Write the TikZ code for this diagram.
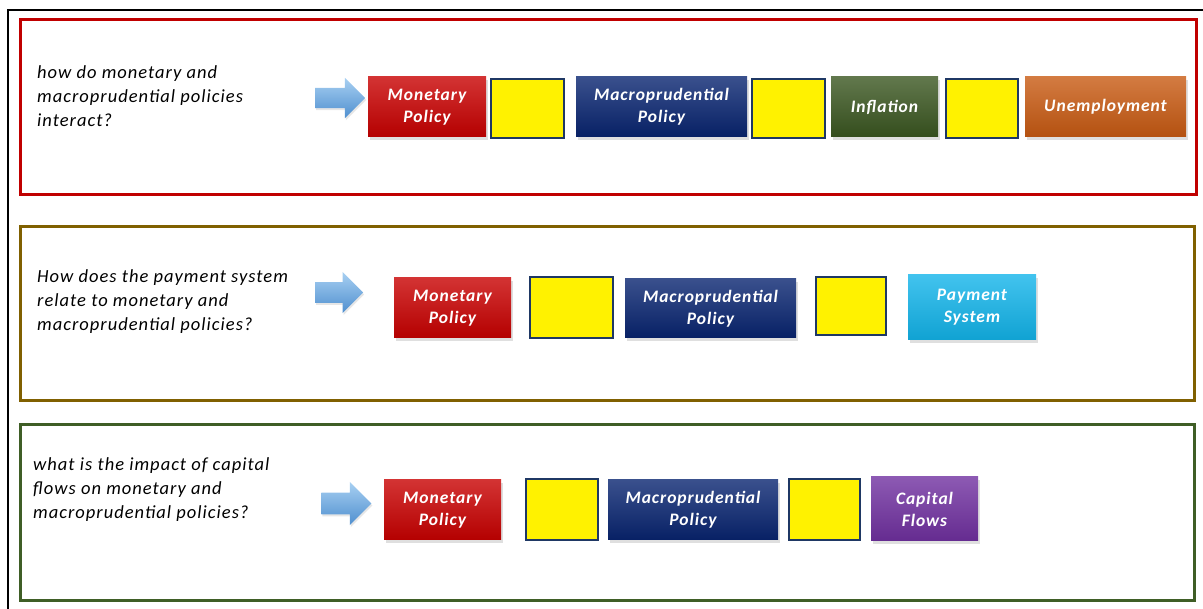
\documentclass[tikz,border=0pt]{standalone}
\usepackage{fontspec}
\setmainfont{Carlito}[LetterSpace=5.5]
\usetikzlibrary{positioning, shapes.arrows, shadows}

\definecolor{frameRed}{HTML}{C00000}
\definecolor{frameBrown}{HTML}{806000}
\definecolor{frameGreen}{HTML}{3F5E26}
\definecolor{monRed}{HTML}{C80000}
\definecolor{macroNavy}{HTML}{082470}
\definecolor{inflGreen}{HTML}{3A5620}
\definecolor{unempOrange}{HTML}{C85A12}
\definecolor{payCyan}{HTML}{12B4EA}
\definecolor{capPurple}{HTML}{7030A0}
\definecolor{gapBorder}{HTML}{1F3864}
\definecolor{arrowLight}{HTML}{A8D0F2}
\definecolor{arrowDark}{HTML}{4F8FCF}

\tikzset{
  frame/.style={draw=#1, line width=3pt},
  question/.style={anchor=west, align=left, inner sep=0pt,
    font=\itshape\fontsize{18.5}{24}\selectfont},
  topic/.style={inner sep=0pt, text=white, align=center,
    font=\bfseries\itshape\fontsize{17.5}{22}\selectfont,
    top color=#1!80!white, middle color=#1, bottom color=#1!90!black,
    drop shadow={shadow xshift=1.5pt, shadow yshift=-3pt, opacity=0.25}},
  gapbox/.style={inner sep=0pt, fill=yellow, draw=gapBorder, line width=1.2pt},
  pointer/.style={single arrow, inner xsep=0pt, inner ysep=#1,
    single arrow head extend=#1, single arrow head indent=0pt,
    top color=arrowLight, bottom color=arrowDark,
    drop shadow={shadow xshift=1pt, shadow yshift=-2pt, opacity=0.2}}
}

\begin{document}
\begin{tikzpicture}[x=1pt, y=-1pt]
\useasboundingbox (0,0) rectangle (1203,609);
% outer frame
\draw[line width=1.3pt] (8,609) -- (8,10) -- (1203,10);

%% row 1: interaction
\draw[frame=frameRed] (20,20) rectangle (1196,195);
\node[question] (q1) at (37,96) {how do monetary and\\macroprudential policies\\interact?};
\node[pointer=10pt, minimum height=50pt] (arr1) at (335,98) {};
\node[topic=monRed, minimum width=118pt, minimum height=60pt] (mon1) at (427,107) {Monetary\\Policy};
\node[gapbox, minimum width=73pt, minimum height=59pt] (gapA1) at (527.5,108.5) {};
\node[topic=macroNavy, minimum width=171pt, minimum height=60pt] (mac1) at (661.5,107) {Macroprudential\\Policy};
\node[gapbox, minimum width=73pt, minimum height=59pt] (gapB1) at (788.5,108.5) {};
\node[topic=inflGreen, minimum width=107pt, minimum height=60pt] (infl) at (884.5,107) {Inflation};
\node[gapbox, minimum width=72pt, minimum height=59pt] (gapC1) at (982,108.5) {};
\node[topic=unempOrange, minimum width=161pt, minimum height=60pt] (unemp) at (1105.5,107) {Unemployment};

%% row 2: payment system
\draw[frame=frameBrown] (20,227) rectangle (1194,401);
\node[question] (q2) at (37,302) {How does the payment system\\relate to monetary and\\macroprudential policies?};
\node[pointer=10.25pt, minimum height=48pt] (arr2) at (334,292.5) {};
\node[topic=monRed, minimum width=117pt, minimum height=60pt] (mon2) at (452.5,308) {Monetary\\Policy};
\node[gapbox, minimum width=83pt, minimum height=61pt] (gapA2) at (571.5,307.5) {};
\node[topic=macroNavy, minimum width=171pt, minimum height=59pt] (mac2) at (710.5,308.5) {Macroprudential\\Policy};
\node[gapbox, minimum width=70pt, minimum height=58pt] (gapB2) at (851,306) {};
\node[topic=payCyan, minimum width=128pt, minimum height=65pt] (pay) at (972,307.5) {Payment\\System};

%% row 3: capital flows
\draw[frame=frameGreen] (20,425) rectangle (1194,600);
\node[question] (q3) at (33,490) {what is the impact of capital\\flows on monetary and\\macroprudential policies?};
\node[pointer=10.75pt, minimum height=50pt] (arr3) at (341,503.5) {};
\node[topic=monRed, minimum width=117pt, minimum height=60pt] (mon3) at (442.5,510) {Monetary\\Policy};
\node[gapbox, minimum width=72pt, minimum height=61pt] (gapA3) at (562,509.5) {};
\node[topic=macroNavy, minimum width=170pt, minimum height=60pt] (mac3) at (693,510) {Macroprudential\\Policy};
\node[gapbox, minimum width=71pt, minimum height=61pt] (gapB3) at (824.5,509.5) {};
\node[topic=capPurple, minimum width=107pt, minimum height=64pt] (cap) at (924.5,509) {Capital\\Flows};
\end{tikzpicture}
\end{document}
